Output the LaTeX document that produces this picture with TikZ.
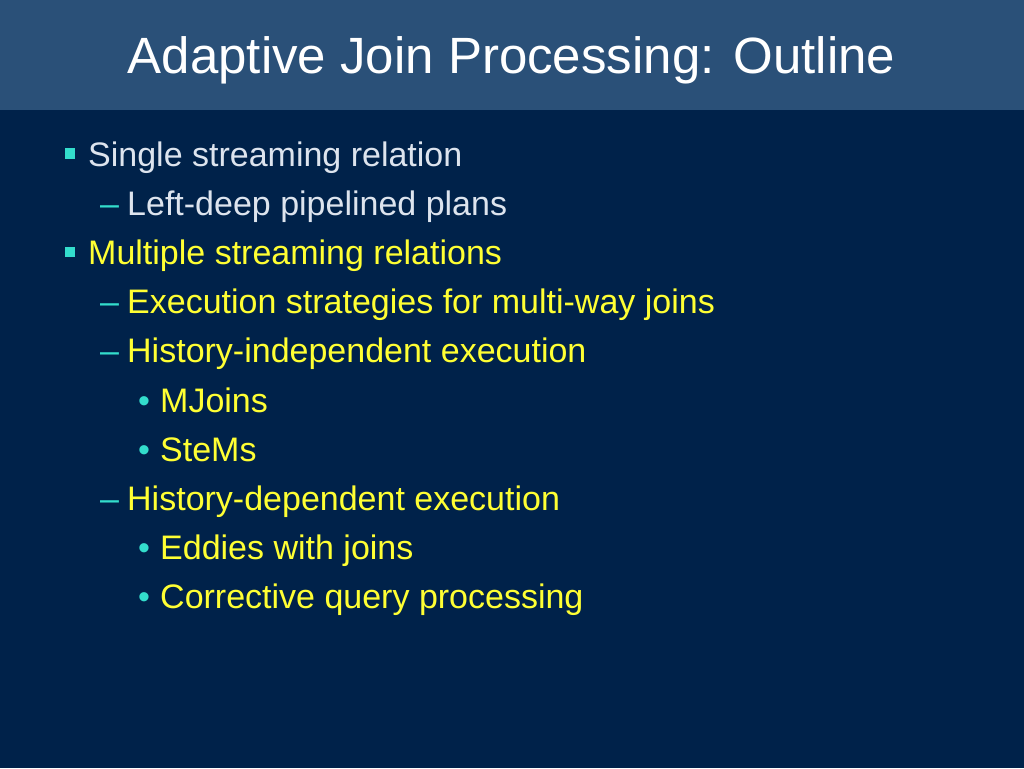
\documentclass[tikz,border=0pt]{standalone}
\usepackage{fontspec}
\setmainfont{Liberation Sans}
\usetikzlibrary{positioning}
\definecolor{barblue}{HTML}{2A5078}
\definecolor{bodyblue}{HTML}{00224A}
\definecolor{paletext}{HTML}{DDE4EE}
\definecolor{hiyellow}{HTML}{FFFF33}
\definecolor{bulcyan}{HTML}{33DDCC}
\tikzset{
  item/.style={anchor=base west,inner sep=0pt,font=\fontsize{34}{40}\selectfont},
  sqbullet/.style={fill=bulcyan,minimum size=10.5pt,inner sep=0pt}
}
\begin{document}
\begin{tikzpicture}[x=1pt,y=-1pt]
\fill[bodyblue] (0,0) rectangle (1024,768);
\fill[barblue] (0,0) rectangle (1024,110);
\node[anchor=base,inner sep=0pt,text=white,font=\fontsize{51}{56}\selectfont] (title) at (511.5,73) {Adaptive Join Processing: Outline};
% first level
\node[sqbullet] (b1) at (70,153.5) {};
\node[item,text=paletext] (single) at (88,166) {Single streaming relation};
\node[item,text=bulcyan] (d1) at (100,215) {--};
\node[item,text=paletext] (leftdeep) at (127,215) {Left-deep pipelined plans};
\node[sqbullet] (b2) at (70,252) {};
\node[item,text=hiyellow] (multi) at (88,264.4) {Multiple streaming relations};
% second level
\node[item,text=bulcyan] (d2) at (100,313.6) {--};
\node[item,text=hiyellow] (exec) at (127,313.6) {Execution strategies for multi-way joins};
\node[item,text=bulcyan] (d3) at (100,362.8) {--};
\node[item,text=hiyellow] (hindep) at (127,362.8) {History-independent execution};
\node[item,text=bulcyan] (p1) at (138,412) {\textbullet};
\node[item,text=hiyellow] (mjoins) at (160,412) {MJoins};
\node[item,text=bulcyan] (p2) at (138,461.2) {\textbullet};
\node[item,text=hiyellow] (stems) at (160,461.2) {SteMs};
\node[item,text=bulcyan] (d4) at (100,510.4) {--};
\node[item,text=hiyellow] (hdep) at (127,510.4) {History-dependent execution};
\node[item,text=bulcyan] (p3) at (138,559.6) {\textbullet};
\node[item,text=hiyellow] (eddies) at (160,559.6) {Eddies with joins};
\node[item,text=bulcyan] (p4) at (138,608.8) {\textbullet};
\node[item,text=hiyellow] (cqp) at (160,608.8) {Corrective query processing};
\end{tikzpicture}
\end{document}
